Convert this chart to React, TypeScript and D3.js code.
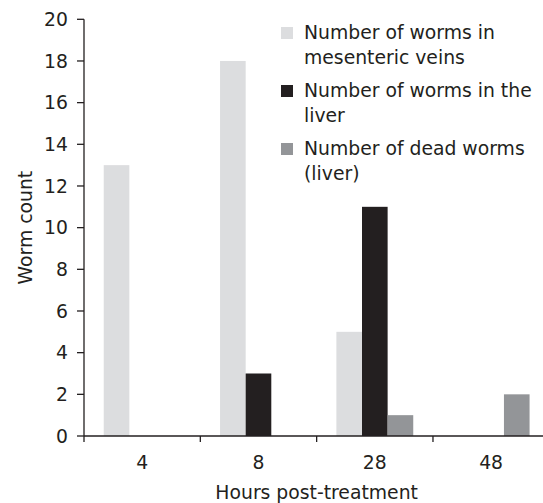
import React from "react";
import * as d3 from "d3";

const categories = ["4", "8", "28", "48"];
const seriesNames = ["mesenteric", "liver", "dead"];
const mesenteric = [13, 18, 5, 0];
const liver = [0, 3, 11, 0];
const dead = [0, 0, 1, 2];
const yTicks = [0, 2, 4, 6, 8, 10, 12, 14, 16, 18, 20];
const legendLines = [
  ["Number of worms in", "mesenteric veins"],
  ["Number of worms in the", "liver"],
  ["Number of dead worms", "(liver)"],
];
const colors = ["#dcdddf", "#231f20", "#939598"];

const W = 543;
const H = 503;
const FONT = "'DejaVu Sans', sans-serif";
const FS = 18.8;
const ink = "#231f20";

export default function App() {
  const values = [mesenteric, liver, dead];
  const x = d3.scaleBand<string>().domain(categories).range([84, 549.3]).padding(0);
  const x1 = d3
    .scaleBand<string>()
    .domain(seriesNames)
    .range([0, x.bandwidth()])
    .paddingInner(0)
    .paddingOuter(0.77);
  const y = d3.scaleLinear().domain([0, 20]).range([436, 19.3]);

  return (
    <svg
      width={W}
      height={H}
      style={{ position: "absolute", left: 0, top: 0, background: "#fff" }}
      fontFamily={FONT}
      fontSize={FS}
      fill={ink}
    >
      {/* bars */}
      {categories.map((c, i) =>
        seriesNames.map((s, j) => {
          const v = values[j][i];
          if (!v) return null;
          return (
            <rect
              key={c + s}
              x={(x(c) as number) + (x1(s) as number)}
              y={y(v)}
              width={x1.bandwidth()}
              height={y(0) - y(v)}
              fill={colors[j]}
            />
          );
        })
      )}
      {/* y axis */}
      <line x1={84} x2={84} y1={y(20)} y2={y(0)} stroke={ink} strokeWidth={1.3} />
      {yTicks.map((t) => (
        <g key={t}>
          <line x1={77} x2={84} y1={y(t)} y2={y(t)} stroke={ink} strokeWidth={1.3} />
          <text x={68} y={y(t)} dy="0.36em" textAnchor="end">
            {t}
          </text>
        </g>
      ))}
      {/* x axis */}
      <line x1={84} x2={W} y1={y(0)} y2={y(0)} stroke={ink} strokeWidth={1.3} />
      {categories.map((c) => (
        <g key={c}>
          <line
            x1={x(c) as number}
            x2={x(c) as number}
            y1={y(0)}
            y2={y(0) + 6}
            stroke={ink}
            strokeWidth={1.3}
          />
          <text x={(x(c) as number) + x.bandwidth() / 2} y={469} textAnchor="middle">
            {c}
          </text>
        </g>
      ))}
      <text x={(84 + 549.3) / 2} y={499} textAnchor="middle">
        Hours post-treatment
      </text>
      <text transform={`translate(32, ${(y(0) + y(20)) / 2}) rotate(-90)`} textAnchor="middle">
        Worm count
      </text>
      {/* legend */}
      {legendLines.map((lines, i) => (
        <g key={i} transform={`translate(0, ${i * 58})`}>
          <rect x={281} y={27} width={12} height={12} fill={colors[i]} />
          {lines.map((l, k) => (
            <text key={k} x={304} y={39 + k * 25}>
              {l}
            </text>
          ))}
        </g>
      ))}
    </svg>
  );
}
